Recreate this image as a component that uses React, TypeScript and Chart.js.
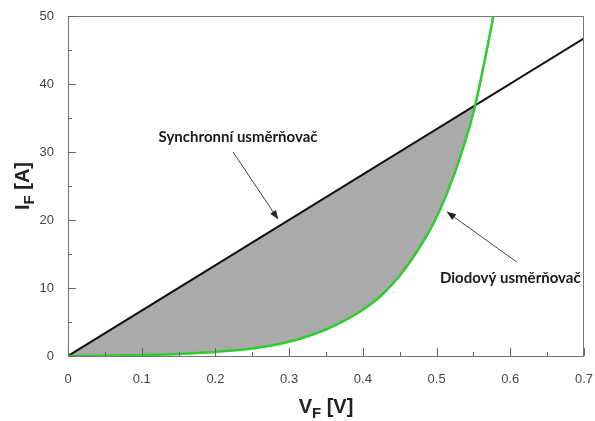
import React, { useEffect, useRef } from "react";
import { Chart, registerables } from "chart.js";

Chart.register(...registerables);

// Diode (green) curve: forward voltage [V] vs forward current [A]
const diodeV = [0, 0.05, 0.1, 0.15, 0.2, 0.25, 0.3, 0.325, 0.35, 0.375, 0.4, 0.425, 0.45, 0.475, 0.5, 0.525, 0.55, 0.575, 0.577];
const diodeI = [0, 0.05, 0.15, 0.3, 0.6, 1.1, 2.1, 2.9, 3.9, 5.2, 6.8, 8.9, 11.8, 15.6, 20.4, 27.0, 35.8, 48.8, 50];

// Synchronous rectifier (black) line
const syncV = [0, 0.7];
const syncI = [0, 46.7];

// Axis ticks
const xMajorTicks = [0, 0.1, 0.2, 0.3, 0.4, 0.5, 0.6, 0.7];
const xMinorTicks = [0.05, 0.15, 0.25, 0.35, 0.45, 0.55, 0.65];
const yMajorTicks = [0, 10, 20, 30, 40, 50];
const yMinorTicks = [5, 15, 25, 35, 45];

// Annotations (data coordinates)
const annoLabels = ["Synchronní usměrňovač", "Diodový usměrňovač"];
const annoLabelPos = [[0.2307, 32.2], [0.6, 11.5]];
const annoArrowFrom = [[0.224, 30.0], [0.609, 13.8]];
const annoArrowTo = [[0.285, 20.1], [0.514, 21.2]];

const SANS = '"Liberation Sans", Arial, sans-serif';

function drawSubText(ctx: CanvasRenderingContext2D, main: string, sub: string, rest: string, x: number, y: number, rotate: boolean) {
  ctx.save();
  ctx.translate(x, y);
  if (rotate) ctx.rotate(-Math.PI / 2);
  const big = `bold 20px ${SANS}`;
  const small = `bold 15px ${SANS}`;
  ctx.font = big;
  const w1 = ctx.measureText(main).width;
  const w3 = ctx.measureText(rest).width;
  ctx.font = small;
  const w2 = ctx.measureText(sub).width;
  let cx = -(w1 + w2 + w3) / 2;
  ctx.fillStyle = "#222";
  ctx.textAlign = "left";
  ctx.textBaseline = "alphabetic";
  ctx.font = big;
  ctx.fillText(main, cx, 7);
  cx += w1;
  ctx.font = small;
  ctx.fillText(sub, cx, 12);
  cx += w2;
  ctx.font = big;
  ctx.fillText(rest, cx, 7);
  ctx.restore();
}

const decorPlugin = {
  id: "decor",
  afterDatasetsDraw(chart: any) {
    const ctx: CanvasRenderingContext2D = chart.ctx;
    const xs = chart.scales.x;
    const ys = chart.scales.y;
    const a = chart.chartArea;
    ctx.save();
    // frame
    ctx.strokeStyle = "#777";
    ctx.lineWidth = 1;
    ctx.strokeRect(a.left + 0.5, a.top + 0.5, a.right - a.left - 1, a.bottom - a.top);
    // inward ticks
    ctx.strokeStyle = "#666";
    ctx.beginPath();
    xMajorTicks.forEach((v) => {
      const px = Math.round(xs.getPixelForValue(v)) + 0.5;
      ctx.moveTo(px, a.bottom);
      ctx.lineTo(px, a.bottom - 8);
    });
    xMinorTicks.forEach((v) => {
      const px = Math.round(xs.getPixelForValue(v)) + 0.5;
      ctx.moveTo(px, a.bottom);
      ctx.lineTo(px, a.bottom - 4);
    });
    yMajorTicks.forEach((v) => {
      const py = Math.round(ys.getPixelForValue(v)) + 0.5;
      ctx.moveTo(a.left, py);
      ctx.lineTo(a.left + 8, py);
    });
    yMinorTicks.forEach((v) => {
      const py = Math.round(ys.getPixelForValue(v)) + 0.5;
      ctx.moveTo(a.left, py);
      ctx.lineTo(a.left + 4, py);
    });
    ctx.stroke();

    // annotations
    annoLabels.forEach((txt, i) => {
      const lx = xs.getPixelForValue(annoLabelPos[i][0]);
      const ly = ys.getPixelForValue(annoLabelPos[i][1]);
      ctx.font = `bold 15px Lato, "Open Sans", sans-serif`;
      ctx.fillStyle = "#1a1a1a";
      ctx.textAlign = "center";
      ctx.textBaseline = "middle";
      ctx.fillText(txt, lx, ly);
      const x1 = xs.getPixelForValue(annoArrowFrom[i][0]);
      const y1 = ys.getPixelForValue(annoArrowFrom[i][1]);
      const x2 = xs.getPixelForValue(annoArrowTo[i][0]);
      const y2 = ys.getPixelForValue(annoArrowTo[i][1]);
      ctx.strokeStyle = "#444";
      ctx.fillStyle = "#222";
      ctx.lineWidth = 1;
      ctx.beginPath();
      ctx.moveTo(x1, y1);
      ctx.lineTo(x2, y2);
      ctx.stroke();
      const ang = Math.atan2(y2 - y1, x2 - x1);
      const L = 9, W = 3.5;
      ctx.beginPath();
      ctx.moveTo(x2, y2);
      ctx.lineTo(x2 - L * Math.cos(ang) + W * Math.sin(ang), y2 - L * Math.sin(ang) - W * Math.cos(ang));
      ctx.lineTo(x2 - L * Math.cos(ang) - W * Math.sin(ang), y2 - L * Math.sin(ang) + W * Math.cos(ang));
      ctx.closePath();
      ctx.fill();
    });

    // axis titles
    drawSubText(ctx, "V", "F", " [V]", (a.left + a.right) / 2, 406, false);
    drawSubText(ctx, "I", "F", " [A]", 22, (a.top + a.bottom) / 2, true);
    ctx.restore();
  },
};

export default function App() {
  const ref = useRef<HTMLCanvasElement | null>(null);
  useEffect(() => {
    if (!ref.current) return;
    const chart = new Chart(ref.current, {
      type: "line",
      data: {
        datasets: [
          {
            label: "Synchronní usměrňovač",
            data: syncV.map((v, i) => ({ x: v, y: syncI[i] })),
            borderColor: "#111",
            borderWidth: 2,
            pointRadius: 0,
            tension: 0,
            order: 1,
            fill: { target: 1, above: "#aaaaaa", below: "rgba(0,0,0,0)" },
          },
          {
            label: "Diodový usměrňovač",
            data: diodeV.map((v, i) => ({ x: v, y: diodeI[i] })),
            borderColor: "#2ecc2e",
            borderWidth: 2.5,
            pointRadius: 0,
            cubicInterpolationMode: "monotone",
            order: 0,
            fill: false,
          },
        ],
      },
      options: {
        animation: false,
        responsive: false,
        maintainAspectRatio: false,
        layout: { padding: { top: 16, right: 11, left: 0, bottom: 0 } },
        plugins: { legend: { display: false }, tooltip: { enabled: false }, title: { display: false } },
        scales: {
          x: {
            type: "linear",
            min: 0,
            max: 0.7,
            grid: { display: false, drawTicks: false },
            border: { display: false },
            ticks: {
              stepSize: 0.1,
              padding: 16,
              color: "#444",
              font: { family: SANS, size: 13 },
              callback: (v: any) => String(Math.round(Number(v) * 10) / 10),
            },
            afterFit: (s: any) => { s.height = 65; s.paddingLeft = 0; s.paddingRight = 0; },
          },
          y: {
            type: "linear",
            min: 0,
            max: 50,
            grid: { display: false, drawTicks: false },
            border: { display: false },
            ticks: {
              stepSize: 10,
              padding: 14,
              color: "#444",
              font: { family: SANS, size: 13 },
            },
            afterFit: (s: any) => { s.width = 68; s.paddingTop = 0; s.paddingBottom = 0; },
          },
        },
      },
      plugins: [decorPlugin],
    } as any);
    return () => chart.destroy();
  }, []);
  return (
    <div style={{ position: "fixed", left: 0, top: 0, width: 595, height: 421, background: "#fff" }}>
      <canvas ref={ref} width={595} height={421} style={{ width: 595, height: 421, display: "block" }} />
    </div>
  );
}
